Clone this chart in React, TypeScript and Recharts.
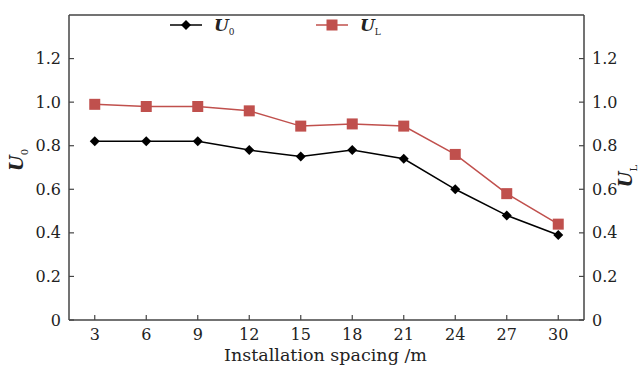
import React from "react";
import { LineChart, Line, XAxis, YAxis } from "recharts";

const spacing = [3, 6, 9, 12, 15, 18, 21, 24, 27, 30];
const u0 = [0.82, 0.82, 0.82, 0.78, 0.75, 0.78, 0.74, 0.6, 0.48, 0.39];
const uL = [0.99, 0.98, 0.98, 0.96, 0.89, 0.9, 0.89, 0.76, 0.58, 0.44];
const yTicks = [0, 0.2, 0.4, 0.6, 0.8, 1.0, 1.2];

const data = spacing.map((s, i) => ({ s, u0: u0[i], uL: uL[i] }));

const FONT = "'DejaVu Serif', serif";
const AXIS = "#444";
const RED = "#c0504d";

const fmtY = (v: number) => (v === 0 ? "0" : v.toFixed(1));

function LeftTick({ x, y, payload }: any) {
  const ax = x + 8;
  return (
    <g>
      <line x1={ax} x2={ax + 5} y1={y} y2={y} stroke={AXIS} strokeWidth={1.2} />
      <text x={x} y={y} dy={5.5} textAnchor="end" fontFamily={FONT} fontSize={16} fill="#222">{fmtY(payload.value)}</text>
    </g>
  );
}

function RightTick({ x, y, payload }: any) {
  const ax = x - 8;
  return (
    <g>
      <line x1={ax} x2={ax - 5} y1={y} y2={y} stroke={AXIS} strokeWidth={1.2} />
      <text x={x} y={y} dy={5.5} textAnchor="start" fontFamily={FONT} fontSize={16} fill="#222">{fmtY(payload.value)}</text>
    </g>
  );
}

function BottomTick({ x, y, payload }: any) {
  const ay = y - 8;
  return (
    <g>
      <line x1={x} x2={x} y1={ay} y2={ay - 5} stroke={AXIS} strokeWidth={1.2} />
      <text x={x} y={y} dy={12} textAnchor="middle" fontFamily={FONT} fontSize={16} fill="#222">{payload.value}</text>
    </g>
  );
}

function Diamond({ cx, cy }: any) {
  if (cx == null || cy == null) return null;
  const r = 5;
  return <path d={`M${cx},${cy - r}L${cx + r},${cy}L${cx},${cy + r}L${cx - r},${cy}Z`} fill="#000" />;
}

function Square({ cx, cy }: any) {
  if (cx == null || cy == null) return null;
  const r = 5.5;
  return <rect x={cx - r} y={cy - r} width={r * 2} height={r * 2} fill={RED} />;
}

function LegendBox() {
  return (
    <svg width={260} height={26} style={{ overflow: "visible", display: "block" }}>
      <line x1={4} x2={36} y1={12} y2={12} stroke="#000" strokeWidth={1.5} />
      <Diamond cx={20} cy={12} />
      <text x={48} y={18} fontFamily={FONT} fontSize={17} fontStyle="italic" fontWeight="bold" fill="#222">
        U<tspan fontSize={9} fontStyle="normal" fontWeight="normal" dy={4}>0</tspan>
      </text>
      <line x1={150} x2={182} y1={12} y2={12} stroke={RED} strokeWidth={1.5} />
      <Square cx={166} cy={12} />
      <text x={194} y={18} fontFamily={FONT} fontSize={17} fontStyle="italic" fontWeight="bold" fill="#222">
        U<tspan fontSize={9} fontStyle="normal" fontWeight="normal" dy={4}>L</tspan>
      </text>
    </svg>
  );
}

export default function App() {
  return (
    <div style={{ position: "fixed", left: 0, top: 0, width: 643, height: 368, background: "#fff" }}>
      <LineChart width={643} height={368} data={data} margin={{ top: 14, right: 0, left: 0, bottom: 0 }}>
        <XAxis
          dataKey="s"
          type="number"
          domain={[1.5, 31.5]}
          ticks={spacing}
          height={48}
          tickSize={0}
          tickMargin={8}
          tick={<BottomTick />}
          tickLine={false}
          axisLine={{ stroke: AXIS, strokeWidth: 1.5 }}
        />
        <XAxis xAxisId="top" orientation="top" dataKey="s" type="number" domain={[1.5, 31.5]} height={1} tick={false} tickLine={false} axisLine={{ stroke: AXIS, strokeWidth: 1.5 }} />
        <YAxis
          yAxisId="left"
          domain={[0, 1.4]}
          ticks={yTicks}
          width={69}
          tickSize={0}
          tickMargin={8}
          tick={<LeftTick />}
          tickLine={false}
          axisLine={{ stroke: AXIS, strokeWidth: 1.5 }}
        />
        <YAxis
          yAxisId="right"
          orientation="right"
          domain={[0, 1.4]}
          ticks={yTicks}
          width={59}
          tickSize={0}
          tickMargin={8}
          tick={<RightTick />}
          tickLine={false}
          axisLine={{ stroke: AXIS, strokeWidth: 1.5 }}
        />
        <Line yAxisId="left" xAxisId={0} dataKey="u0" stroke="#000" strokeWidth={1.5} dot={<Diamond />} activeDot={false} isAnimationActive={false} />
        <Line yAxisId="right" xAxisId={0} dataKey="uL" stroke={RED} strokeWidth={1.5} dot={<Square />} activeDot={false} isAnimationActive={false} />
      </LineChart>
      <div style={{ position: "absolute", left: 166, top: 13 }}>
        <LegendBox />
      </div>
      <div style={{ position: "absolute", left: 0, top: 345, width: 643, textAlign: "center", fontFamily: FONT, fontSize: 17.5, color: "#222", paddingLeft: 8, boxSizing: "border-box" }}>
        Installation spacing /m
      </div>
      <div style={{ position: "absolute", left: 18, top: 160, transform: "translate(-50%, -50%) rotate(-90deg)", fontFamily: FONT, fontSize: 18, fontStyle: "italic", fontWeight: "bold", color: "#222", whiteSpace: "nowrap" }}>
        U<sub style={{ fontSize: 10, fontStyle: "normal", fontWeight: "normal" }}>0</sub>
      </div>
      <div style={{ position: "absolute", left: 627, top: 176, transform: "translate(-50%, -50%) rotate(-90deg)", fontFamily: FONT, fontSize: 18, fontStyle: "italic", fontWeight: "bold", color: "#222", whiteSpace: "nowrap" }}>
        U<sub style={{ fontSize: 10, fontStyle: "normal", fontWeight: "normal" }}>L</sub>
      </div>
    </div>
  );
}
